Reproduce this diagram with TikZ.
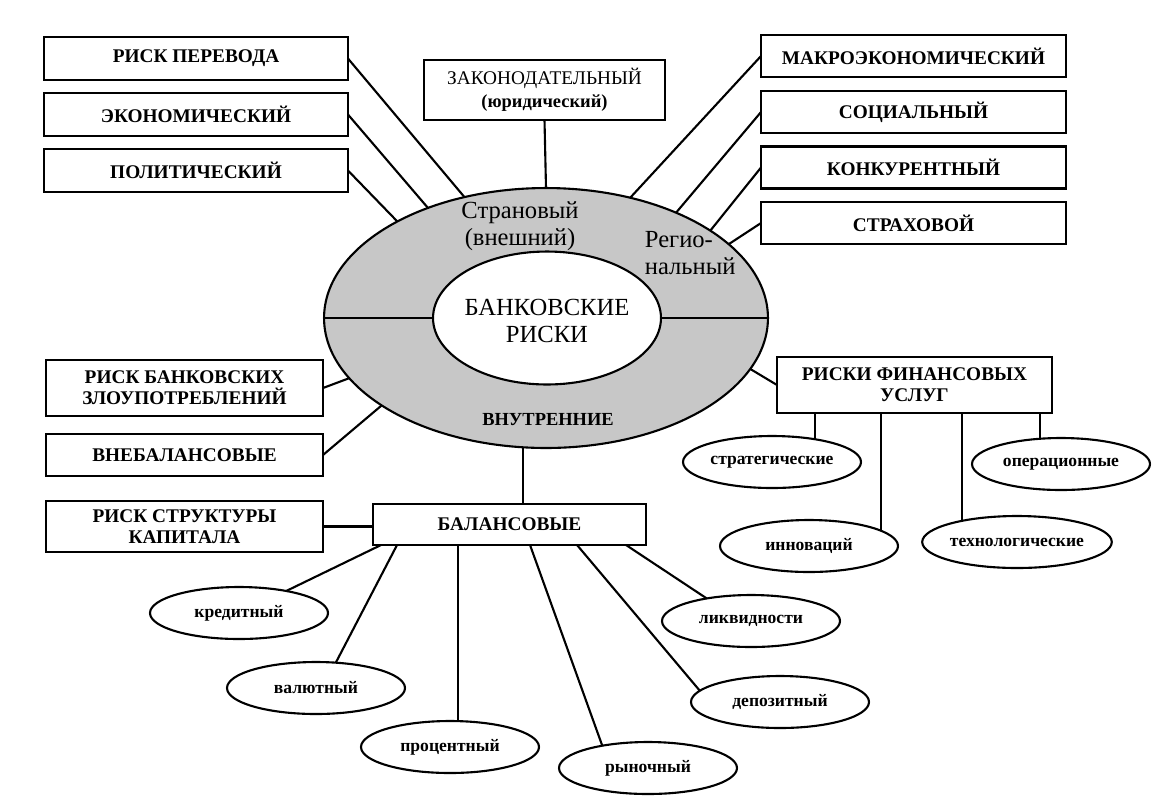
\documentclass[tikz,border=0pt]{standalone}
\usepackage{fontspec}
\setmainfont{Liberation Serif}
\usetikzlibrary{shapes.geometric}

\begin{document}
\begin{tikzpicture}[x=0.02cm,y=-0.02cm,
		line width=1.2pt,
		box/.style={draw, fill=white, align=center, inner sep=0pt, outer sep=0pt,
			font=\bfseries\fontsize{11}{12}\selectfont},
		oval/.style={draw, ellipse, inner sep=0pt, outer sep=0pt,
			minimum width=3.56cm, minimum height=1.04cm,
			font=\bfseries\fontsize{10}{11}\selectfont},
		ring/.style={draw, ellipse, inner sep=0pt, outer sep=0pt},
	]
	\useasboundingbox (0,0) rectangle (1153,796);

	% ring
	\node[ring, fill=black!22, minimum width=8.88cm, minimum height=5.2cm] (outer) at (546,318) {};
	\node[ring, fill=white, minimum width=4.56cm, minimum height=2.66cm] (inner) at (547,318) {};
	\draw (outer.west) -- (inner.west);
	\draw (inner.east) -- (outer.east);

	\node[align=center, font=\fontsize{14}{15.5}\selectfont] (title) at (547,321) {БАНКОВСКИЕ\\РИСКИ};
	\node[align=center, font=\fontsize{14}{15.5}\selectfont] (strana) at (520,226) {Страновый\\(внешний)};
	\node[align=left, anchor=west, font=\fontsize{14}{15.5}\selectfont] (region) at (638,253) {Регио-\\нальный};
	\node[font=\bfseries\fontsize{10.5}{12}\selectfont] (vnutr) at (548,420) {ВНУТРЕННИЕ};

	% outer boxes
	\node[box, minimum width=6.08cm, minimum height=0.86cm] (perevod) at (196,58.5) {РИСК ПЕРЕВОДА};
	\node[box, minimum width=6.08cm, minimum height=0.86cm] (econ) at (196,114.5) {ЭКОНОМИЧЕСКИЙ};
	\node[box, minimum width=6.08cm, minimum height=0.86cm] (polit) at (196,170.5) {ПОЛИТИЧЕСКИЙ};
	\node[box, minimum width=4.82cm, minimum height=1.2cm, font=\fontsize{11}{13}\selectfont] (zakon) at (544.5,90)
		{ЗАКОНОДАТЕЛЬНЫЙ\\{\bfseries\fontsize{10.5}{12}\selectfont(юридический)}};
	\node[box, minimum width=6.1cm, minimum height=0.84cm] (makro) at (913.5,56) {МАКРОЭКОНОМИЧЕСКИЙ};
	\node[box, minimum width=6.1cm, minimum height=0.84cm] (social) at (913.5,112) {СОЦИАЛЬНЫЙ};
	\node[box, minimum width=6.1cm, minimum height=0.84cm] (konkur) at (913.5,167.5) {КОНКУРЕНТНЫЙ};
	\node[box, minimum width=6.1cm, minimum height=0.84cm] (strakh) at (913.5,223) {СТРАХОВОЙ};

	\draw (perevod.east) -- (outer.124);
	\draw (econ.east) -- (outer.137);
	\draw (polit.east) -- (outer.147);
	\draw (zakon.south) -- (outer.north);
	\draw (makro.west) -- (outer.55);
	\draw (social.west) -- (outer.39);
	\draw (konkur.west) -- (outer.28);
	\draw (strakh.west) -- (outer.22);

	% inner risks
	\node[box, minimum width=5.54cm, minimum height=1.12cm] (zloup) at (184.5,388) {РИСК БАНКОВСКИХ\\ЗЛОУПОТРЕБЛЕНИЙ};
	\node[box, minimum width=5.54cm, minimum height=0.84cm] (vnebal) at (184.5,455) {ВНЕБАЛАНСОВЫЕ};
	\node[box, minimum width=5.54cm, minimum height=1.02cm] (struct) at (184.5,526.5) {РИСК СТРУКТУРЫ\\КАПИТАЛА};
	\node[box, minimum width=5.46cm, minimum height=0.82cm] (bal) at (509.5,524.5) {БАЛАНСОВЫЕ};
	\node[box, minimum width=5.5cm, minimum height=1.12cm] (finusl) at (914.5,385) {РИСКИ ФИНАНСОВЫХ\\УСЛУГ};

	\draw (zloup.east) -- (outer.197);
	\draw (vnebal.east) -- (outer.208);
	\draw (outer.260) -- (outer.260 |- bal.north);
	\draw (struct.east) -- (struct.east -| bal.west);
	\draw (outer.346) -- (finusl.west);

	% balance risks
	\node[oval] (kred) at (239,613) {кредитный};
	\node[oval] (valut) at (316,688) {валютный};
	\node[oval] (proc) at (450,747) {процентный};
	\node[oval] (rynoch) at (648,768) {рыночный};
	\node[oval] (depoz) at (780,702) {депозитный};
	\node[oval] (likv) at (751,621) {ликвидности};

	\draw (bal.south west) ++(8,0) -- (kred.25);
	\draw (bal.south west) ++(24,0) -- (valut.52);
	\draw (proc.72 |- bal.south) -- (proc.72);
	\draw (bal.south west) ++(157,0) -- (rynoch.154);
	\draw (bal.south west) ++(204,0) -- (depoz.172);
	\draw (bal.south west) ++(253,0) -- (likv.153);

	% financial services risks
	\node[oval] (strat) at (772,462) {стратегические};
	\node[oval] (innov) at (809,546) {инноваций};
	\node[oval] (tekhn) at (1017,542) {технологические};
	\node[oval] (operac) at (1061,464) {операционные};

	\draw (strat.28 |- finusl.south) -- (strat.28);
	\draw (innov.12 |- finusl.south) -- (innov.12);
	\draw (tekhn.159 |- finusl.south) -- (tekhn.159);
	\draw (operac.130 |- finusl.south) -- (operac.130);
\end{tikzpicture}
\end{document}
